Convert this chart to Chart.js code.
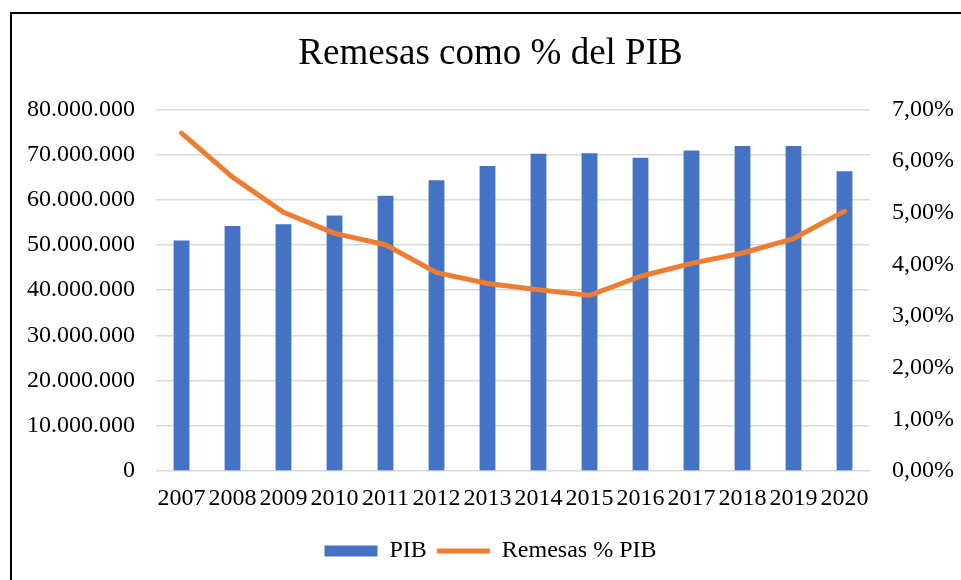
<!DOCTYPE html>
<html>
<head>
<meta charset="utf-8">
<script src="https://cdn.jsdelivr.net/npm/chart.js@4"></script>
<style>
  html, body { margin: 0; padding: 0; background: #fff; overflow: hidden; }
  #frame { position: absolute; left: 10px; top: 12px; width: 1200px; height: 800px; border: 2px solid #000; box-sizing: border-box; }
  #chart { position: absolute; left: 0; top: 0; }
</style>
</head>
<body>
<div id="frame"></div>
<canvas id="chart" width="961" height="580"></canvas>
<script>
// data
const years = ['2007', '2008', '2009', '2010', '2011', '2012', '2013', '2014', '2015', '2016', '2017', '2018', '2019', '2020']
const pib = [51000000, 54200000, 54600000, 56500000, 60900000, 64300000, 67500000, 70200000, 70300000, 69300000, 70900000, 71900000, 71900000, 66300000]
const remesasPct = [6.54, 5.69, 5.01, 4.60, 4.38, 3.84, 3.63, 3.51, 3.40, 3.77, 4.02, 4.22, 4.50, 5.03]

const serif = "'Liberation Serif', 'Times New Roman', serif"
const txt = '#000000'

// 80000000 -> 80.000.000
const fmtMiles = (v) => String(Math.round(v)).replace(/\B(?=(\d{3})+(?!\d))/g, '.')
const fmtPct = (v) => Number(v).toFixed(2).replace('.', ',') + '%'

const ctx = document.getElementById('chart').getContext('2d')
new Chart(ctx, {
    data: {
        labels: years,
        datasets: [
            {
                type: 'bar',
                label: 'PIB',
                data: pib,
                yAxisID: 'y',
                backgroundColor: '#4472C4',
                borderWidth: 0,
                barPercentage: 0.31,
                categoryPercentage: 1,
                pointStyle: 'rect',
                order: 2
            },
            {
                type: 'line',
                label: 'Remesas % PIB',
                data: remesasPct,
                yAxisID: 'y1',
                borderColor: '#ED7D31',
                backgroundColor: '#ED7D31',
                borderWidth: 5,
                borderCapStyle: 'round',
                borderJoinStyle: 'round',
                pointRadius: 0,
                pointStyle: 'line',
                tension: 0,
                order: 1
            }
        ]
    },
    options: {
        responsive: false,
        animation: false,
        devicePixelRatio: 1,
        layout: { padding: { left: 20, right: 0, top: 0, bottom: 7 } },
        scales: {
            x: {
                grid: { display: false, drawTicks: false },
                border: { display: false },
                ticks: {
                    color: txt,
                    font: { family: serif, size: 24 },
                    padding: 13,
                    maxRotation: 0,
                    minRotation: 0,
                    autoSkip: false
                },
                afterFit: (s) => { s.height = 58 }
            },
            y: {
                position: 'left',
                min: 0,
                max: 80000000,
                ticks: {
                    stepSize: 10000000,
                    color: txt,
                    font: { family: serif, size: 24 },
                    padding: 21,
                    callback: (v) => fmtMiles(v)
                },
                grid: { color: '#d9d9d9', lineWidth: 1.5, drawTicks: false },
                border: { display: false },
                afterFit: (s) => { s.width = 136 }
            },
            y1: {
                position: 'right',
                min: 0,
                max: 7,
                ticks: {
                    stepSize: 1,
                    color: txt,
                    font: { family: serif, size: 24 },
                    padding: 22,
                    callback: (v) => fmtPct(v)
                },
                grid: { display: false, drawTicks: false },
                border: { display: false },
                afterFit: (s) => { s.width = 91 }
            }
        },
        plugins: {
            title: {
                display: true,
                text: 'Remesas como % del PIB',
                color: txt,
                font: { family: serif, size: 37, weight: 'normal' },
                padding: { top: 32, bottom: 33 }
            },
            legend: {
                position: 'bottom',
                labels: {
                    color: txt,
                    font: { family: serif, size: 24 },
                    usePointStyle: true,
                    pointStyleWidth: 53,
                    boxHeight: 11,
                    padding: 10,
                    sort: (a, b) => a.datasetIndex - b.datasetIndex
                }
            },
            tooltip: { enabled: false }
        }
    }
})
</script>
</body>
</html>
